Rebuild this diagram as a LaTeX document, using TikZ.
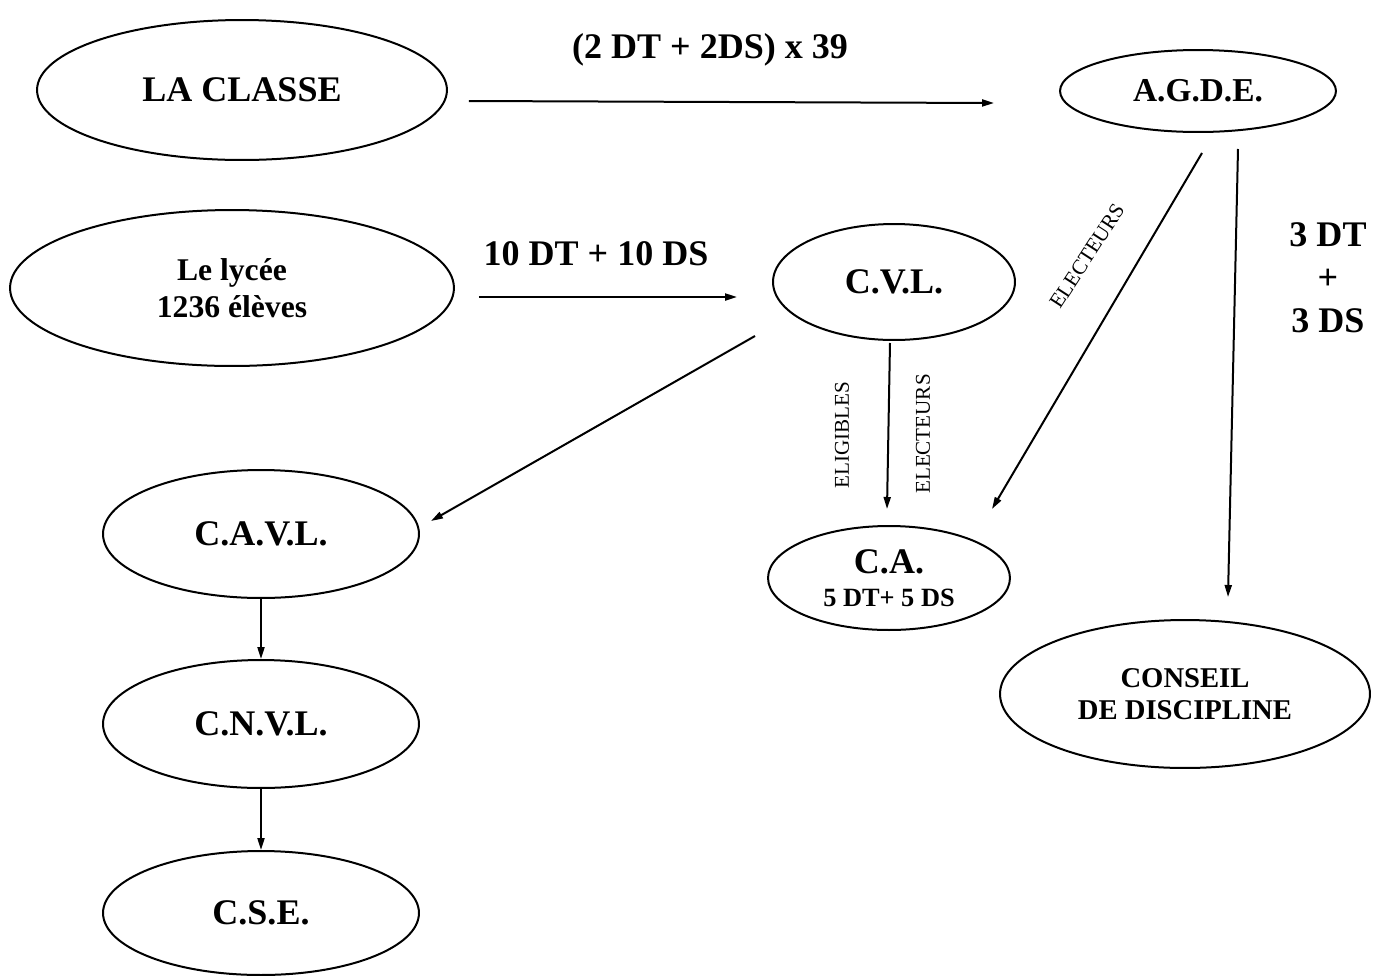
\documentclass[tikz,border=0pt]{standalone}
\usepackage{fontspec}
\setmainfont{Liberation Serif}
\usetikzlibrary{shapes.geometric,arrows.meta}
\tikzset{
	bulle/.style={ellipse, draw, line width=0.4mm, inner sep=0pt, align=center,
			font=\bfseries\fontsize{20.5}{24}\selectfont},
	fleche/.style={-{Triangle[length=2.4mm,width=1.4mm]}, line width=0.4mm},
	titre/.style={font=\bfseries\fontsize{20.5}{24.5}\selectfont, align=center},
	vote/.style={font=\fontsize{12}{14}\selectfont}
}

\begin{document}
\begin{tikzpicture}[x=0.02cm, y=-0.02cm]
        \useasboundingbox (0,0) rectangle (1377,975);
        \node [bulle, minimum width=8.2cm, minimum height=2.8cm] (classe) at (242,90) {LA CLASSE};
        \node [bulle, minimum width=5.52cm, minimum height=1.64cm, font=\bfseries\fontsize{19}{22}\selectfont] (agde) at (1198,91) {A.G.D.E.};
        \node [bulle, minimum width=8.88cm, minimum height=3.12cm, font=\bfseries\fontsize{18}{21}\selectfont] (lycee) at (232,288) {Le lycée\\1236 élèves};
        \node [bulle, minimum width=4.84cm, minimum height=2.32cm] (cvl) at (894,282) {C.V.L.};
        \node [bulle, minimum width=6.32cm, minimum height=2.56cm] (cavl) at (261,534) {C.A.V.L.};
        \node [bulle, minimum width=4.84cm, minimum height=2.08cm] (ca) at (889,578) {C.A.\\[-5.5pt]{\fontsize{15}{18}\selectfont 5 DT+ 5 DS}};
        \node [bulle, minimum width=7.4cm, minimum height=2.96cm, font=\bfseries\fontsize{16.3}{18.2}\selectfont] (conseil) at (1185,694) {CONSEIL\\DE DISCIPLINE};
        \node [bulle, minimum width=6.32cm, minimum height=2.56cm] (cnvl) at (261,724) {C.N.V.L.};
        \node [bulle, minimum width=6.32cm, minimum height=2.48cm] (cse) at (261,913) {C.S.E.};

        \draw [fleche] ([shift={(21,11)}]classe.east) -- ([shift={(-65,12)}]agde.west);
        \node [titre] (tclasse) at (710,50) {(2 DT + 2DS) x 39};
        \draw [fleche] ([shift={(24,9)}]lycee.east) -- ([shift={(-35,15)}]cvl.west);
        \node [titre] (tlycee) at (596,254) {10 DT + 10 DS};
        \draw [fleche] ([shift={(-139,-5)}]cvl.south) -- ([shift={(11,-13)}]cavl.east);
        \draw [fleche] ([shift={(-4,2)}]cvl.south) -- ([shift={(-2,-16)}]ca.north);
        \node [vote, rotate=90] (eligibles) at (842,435) {ELIGIBLES};
        \node [vote, rotate=90] (electeurs) at (923,434) {ELECTEURS};
        \draw [fleche] ([shift={(4,20)}]agde.south) -- ([shift={(103,-16)}]ca.north);
        \node [vote, rotate=57] (electeursagde) at (1087,256) {ELECTEURS};
        \draw [fleche] ([shift={(40,16)}]agde.south) -- ([shift={(43,-22)}]conseil.north);
        \node [titre] (tconseil) at (1328,278) {3 DT\\+\\3 DS};
        \draw [fleche] (cavl.south) -- (cnvl.north);
        \draw [fleche] (cnvl.south) -- (cse.north);
    \end{tikzpicture}
\end{document}
